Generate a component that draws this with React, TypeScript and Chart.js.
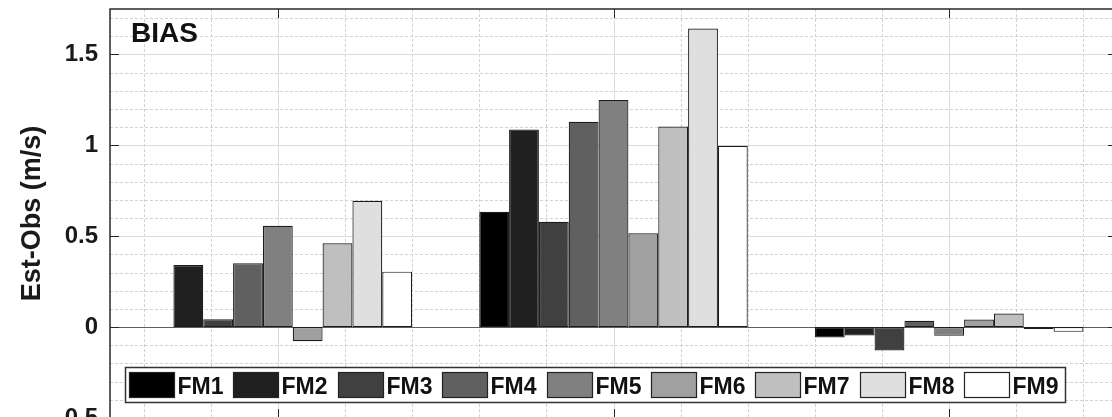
import React, { useEffect, useRef } from "react";
import { Chart, registerables } from "chart.js";

Chart.register(...registerables);

// ---- data ----
const groups = [1, 2, 3];
const seriesNames = ["FM1", "FM2", "FM3", "FM4", "FM5", "FM6", "FM7", "FM8", "FM9"];
const FM1 = [0, 0.635, -0.057];
const FM2 = [0.342, 1.087, -0.046];
const FM3 = [0.043, 0.58, -0.128];
const FM4 = [0.351, 1.13, 0.035];
const FM5 = [0.558, 1.25, -0.048];
const FM6 = [-0.078, 0.516, 0.042];
const FM7 = [0.461, 1.103, 0.075];
const FM8 = [0.695, 1.643, -0.011];
const FM9 = [0.305, 0.998, -0.026];
const seriesValues = [FM1, FM2, FM3, FM4, FM5, FM6, FM7, FM8, FM9];
const seriesColors = ["#000000", "#202020", "#404040", "#606060", "#808080", "#a0a0a0", "#bfbfbf", "#dfdfdf", "#ffffff"];

const panelTitle = "BIAS";
const yAxisTitle = "Est-Obs (m/s)";
const yTicks = [-0.5, 0, 0.5, 1, 1.5];
const yMinorTicks = [-0.4, -0.3, -0.2, -0.1, 0.1, 0.2, 0.3, 0.4, 0.6, 0.7, 0.8, 0.9, 1.1, 1.2, 1.3, 1.4, 1.6, 1.7];
const xMinorTicks = [0.6, 0.8, 1.2, 1.4, 1.6, 1.8, 2.2, 2.4, 2.6, 2.8, 3.2, 3.4];
const yRange = [-0.5, 1.75];
const xRange = [0.5, 3.5];

const FONT = '"Liberation Sans", Arial, Helvetica, sans-serif';

const matlabPlugin = {
  id: "matlabStyle",
  beforeDatasetsDraw(chart: any) {
    const { ctx, chartArea: a, scales } = chart;
    const x = scales.x;
    const y = scales.y;
    ctx.save();
    ctx.lineWidth = 1;
    // minor grid
    ctx.strokeStyle = "#d2d2d2";
    ctx.setLineDash([3, 2]);
    yMinorTicks.forEach((v) => {
      const py = Math.round(y.getPixelForValue(v)) + 0.5;
      ctx.beginPath();
      ctx.moveTo(a.left, py);
      ctx.lineTo(a.right, py);
      ctx.stroke();
    });
    xMinorTicks.forEach((v) => {
      const px = Math.round(x.getPixelForValue(v)) + 0.5;
      ctx.beginPath();
      ctx.moveTo(px, a.top);
      ctx.lineTo(px, a.bottom);
      ctx.stroke();
    });
    // major grid
    ctx.setLineDash([]);
    ctx.strokeStyle = "#dcdcdc";
    yTicks.forEach((v) => {
      const py = Math.round(y.getPixelForValue(v)) + 0.5;
      ctx.beginPath();
      ctx.moveTo(a.left, py);
      ctx.lineTo(a.right, py);
      ctx.stroke();
    });
    groups.forEach((v) => {
      const px = Math.round(x.getPixelForValue(v)) + 0.5;
      ctx.beginPath();
      ctx.moveTo(px, a.top);
      ctx.lineTo(px, a.bottom);
      ctx.stroke();
    });
    // baseline
    ctx.strokeStyle = "#5e5e5e";
    const p0 = Math.round(y.getPixelForValue(0)) + 0.5;
    ctx.beginPath();
    ctx.moveTo(a.left, p0);
    ctx.lineTo(a.right, p0);
    ctx.stroke();
    ctx.restore();
  },
  afterDatasetsDraw(chart: any) {
    const { ctx, chartArea: a, scales } = chart;
    const x = scales.x;
    const y = scales.y;
    ctx.save();
    // ticks
    ctx.strokeStyle = "#262626";
    ctx.lineWidth = 1;
    const tl = 9;
    yTicks.forEach((v) => {
      const py = Math.round(y.getPixelForValue(v)) + 0.5;
      ctx.beginPath();
      ctx.moveTo(a.left, py);
      ctx.lineTo(a.left + tl, py);
      ctx.moveTo(a.right, py);
      ctx.lineTo(a.right - tl, py);
      ctx.stroke();
    });
    groups.forEach((v) => {
      const px = Math.round(x.getPixelForValue(v)) + 0.5;
      ctx.beginPath();
      ctx.moveTo(px, a.top);
      ctx.lineTo(px, a.top + tl);
      ctx.moveTo(px, a.bottom);
      ctx.lineTo(px, a.bottom - tl);
      ctx.stroke();
    });
    // border
    ctx.strokeStyle = "#2a2a2a";
    ctx.lineWidth = 1.5;
    ctx.strokeRect(a.left, a.top, a.right - a.left, a.bottom - a.top);
    // panel title
    ctx.fillStyle = "#111111";
    ctx.font = `bold 28px ${FONT}`;
    ctx.textBaseline = "alphabetic";
    ctx.textAlign = "left";
    ctx.fillText(panelTitle, a.left + 21, a.top + 33);
    ctx.restore();
  },
  afterDraw(chart: any) {
    const { ctx, chartArea: a } = chart;
    ctx.save();
    const lx = a.left + 15;
    const ly = a.top + 358;
    const lw = 940;
    const lh = 35;
    ctx.fillStyle = "#ffffff";
    ctx.fillRect(lx, ly, lw, lh);
    ctx.strokeStyle = "#333333";
    ctx.lineWidth = 1.5;
    ctx.strokeRect(lx + 0.5, ly + 0.5, lw, lh);
    const pitch = 104.4;
    ctx.font = `bold 23px ${FONT}`;
    ctx.textBaseline = "alphabetic";
    ctx.textAlign = "left";
    chart.data.datasets.forEach((ds: any, i: number) => {
      const sx = Math.round(lx + 4 + i * pitch) + 0.5;
      const sy = ly + 5.5;
      ctx.fillStyle = ds.backgroundColor;
      ctx.fillRect(sx, sy, 45, 25);
      ctx.strokeStyle = "#222222";
      ctx.lineWidth = 1.2;
      ctx.strokeRect(sx, sy, 45, 25);
      ctx.fillStyle = "#111111";
      ctx.fillText(ds.label, sx + 48, ly + 26.5);
    });
    ctx.restore();
  },
};

export default function App() {
  const ref = useRef<HTMLCanvasElement | null>(null);
  useEffect(() => {
    if (!ref.current) return;
    const chart = new Chart(ref.current, {
      type: "bar",
      data: {
        labels: groups,
        datasets: seriesNames.map((name, i) => ({
          label: name,
          data: seriesValues[i],
          backgroundColor: seriesColors[i],
          borderColor: "#1c1c1c",
          borderWidth: 1.2,
          borderSkipped: false,
          categoryPercentage: 0.8,
          barPercentage: 1.0,
        })),
      },
      options: {
        responsive: false,
        animation: false,
        layout: { padding: { left: 0, top: 9, right: 13, bottom: 7 }, autoPadding: false },
        plugins: { legend: { display: false }, tooltip: { enabled: false } },
        scales: {
          x: {
            type: "linear",
            min: xRange[0],
            max: xRange[1],
            offset: false,
            display: false,
            grid: { offset: false },
            afterBuildTicks: (s: any) => {
              s.ticks = groups.map((v) => ({ value: v }));
            },
          },
          y: {
            type: "linear",
            min: yRange[0],
            max: yRange[1],
            afterBuildTicks: (s: any) => {
              s.ticks = yTicks.map((v) => ({ value: v }));
            },
            afterFit: (s: any) => {
              s.width = 110;
              s.paddingTop = 0;
              s.paddingBottom = 0;
            },
            ticks: {
              callback: (v: any) => String(v),
              color: "#1a1a1a",
              padding: 12,
              font: { family: FONT, size: 24, weight: "bold" },
            },
            grid: { display: false, drawTicks: false },
            border: { display: false },
            title: {
              display: true,
              text: yAxisTitle,
              color: "#1a1a1a",
              font: { family: FONT, size: 27, weight: "bold" },
              padding: { top: 16, bottom: 0 },
            },
          },
        },
      } as any,
      plugins: [matlabPlugin],
    });
    return () => chart.destroy();
  }, []);
  return (
    <div style={{ position: "fixed", left: 0, top: 0, width: 1112, height: 417, overflow: "hidden", background: "#ffffff" }}>
      <canvas ref={ref} width={1130} height={425} style={{ display: "block" }} />
    </div>
  );
}
